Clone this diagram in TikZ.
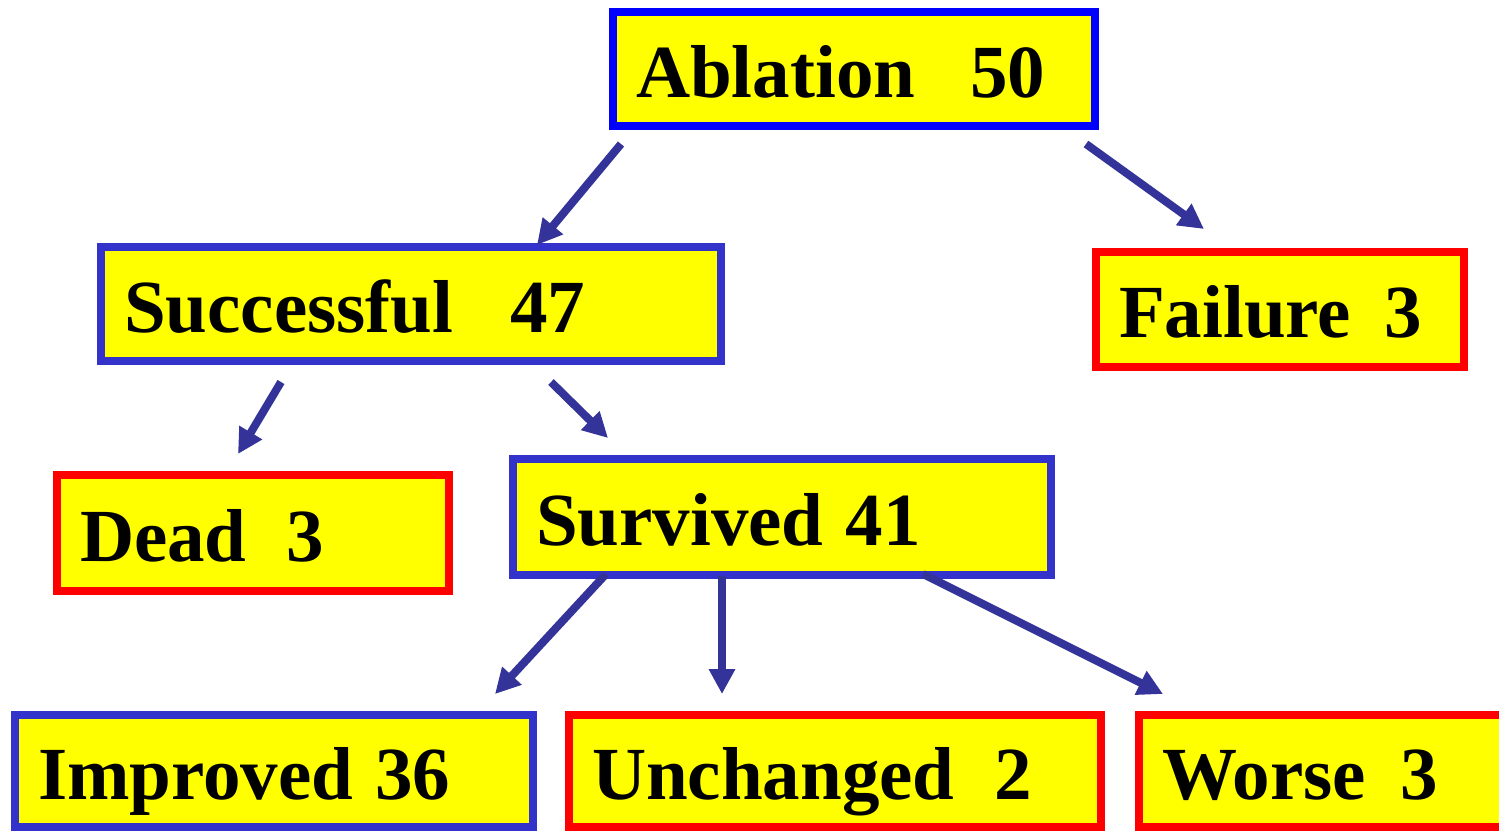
\documentclass[tikz,border=0pt]{standalone}
\usepackage{fontspec}
\setmainfont{Liberation Serif}
\usetikzlibrary{arrows.meta,calc}
\definecolor{boxblue}{RGB}{51,51,204}
\definecolor{boxfill}{RGB}{255,255,0}
\definecolor{arrowblue}{RGB}{51,51,153}
\begin{document}
\begin{tikzpicture}[x=1pt,y=1pt,yscale=-1,
  box/.style={draw, line width=8pt, fill=boxfill, inner xsep=23pt, inner ysep=0pt,
    align=left, text height=56pt, text depth=0pt,
    font=\fontsize{75}{80}\selectfont\bfseries},
  bluebox/.style={box, draw=boxblue},
  redbox/.style={box, draw=red},
  arr/.style={draw=arrowblue, line width=8pt, -{Triangle[length=25pt,width=25pt]}}]
\useasboundingbox (0,0) rectangle (1499,831);

% Boxes
\node [box, draw=blue, text width=436, minimum height=114] (ablation) at (854,69) {Ablation\hspace{55pt}50};
\node [bluebox, text width=574, minimum height=114] (successful) at (411,304) {Successful\hspace{57pt}47};
\node [redbox, text width=322, minimum height=115] (failure) at (1280,309.5) {Failure\hspace{34pt}3};
\node [redbox, text width=346, minimum height=116] (dead) at (253,533) {Dead\hspace{40pt}3};
\node [bluebox, text width=492, minimum height=116] (survived) at (782,517) {Survived\hspace{22pt}41};
\node [bluebox, text width=472, minimum height=112] (improved) at (274,771) {Improved\hspace{22pt}36};
\node [redbox, text width=486, minimum height=112] (unchanged) at (835,771) {Unchanged\hspace{40pt}2};
\node [redbox, text width=345, minimum height=112] (worse) at (1334.5,771) {Worse\hspace{34pt}3};

% Arrows
\draw [arr] ($(ablation.south west)+(12,14)$) -- ($(successful.north west)+(440,2)$);
\draw [arr] ($(ablation.south east)+(-13,14)$) -- ($(failure.north west)+(112,-19)$);
\draw [arr] ($(successful.south west)+(184,17)$) -- ($(dead.north west)+(185,-17)$);
\draw [arr] ($(successful.south west)+(454,17)$) -- ($(survived.north west)+(99,-17)$);
\draw [arr] ($(survived.south west)+(97,-5)$) -- ($(improved.north west)+(484,-17)$);
\draw [arr] ($(survived.south west)+(213,-3)$) -- ($(unchanged.north west)+(157,-17)$);
\draw [arr] ($(survived.south west)+(414,-5)$) -- ($(worse.north west)+(28,-17)$);

\end{tikzpicture}
\end{document}
